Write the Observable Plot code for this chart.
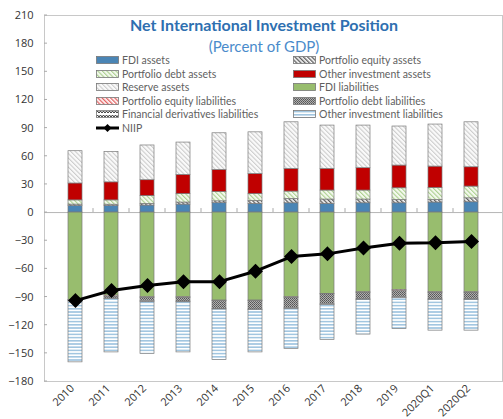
<!DOCTYPE html>
<html>
<head>
<meta charset="utf-8">
<script src="https://cdn.jsdelivr.net/npm/d3@7"></script>
<script src="https://cdn.jsdelivr.net/npm/@observablehq/plot@0.6"></script>
<style>
  html, body { margin: 0; padding: 0; background: #fff; overflow: hidden; }
  #wrap { position: relative; width: 503px; height: 419px; font-family: Lato, "Open Sans", sans-serif; }
  .title { position: absolute; left: 64px; width: 400px; text-align: center; }
  .leg { position: absolute; display: flex; align-items: center; height: 12px; font-size: 10.5px; color: #5f5f5f; white-space: nowrap; }
  .leg svg { margin-right: 3px; }
</style>
</head>
<body>
<svg width="0" height="0" style="position:absolute">
  <defs>
    <pattern id="p-pe-a" width="3" height="3" patternUnits="userSpaceOnUse" patternTransform="rotate(-45)">
      <rect width="3" height="3" fill="#fff"/><line x1="0.7" y1="0" x2="0.7" y2="3" stroke="#555" stroke-width="1.3"/>
    </pattern>
    <pattern id="p-pd-a" width="3.2" height="3.2" patternUnits="userSpaceOnUse" patternTransform="rotate(-45)">
      <rect width="3.2" height="3.2" fill="#f4f9ee"/><line x1="0.6" y1="0" x2="0.6" y2="3.2" stroke="#9cc77a" stroke-width="0.9"/>
    </pattern>
    <pattern id="p-res" width="3.2" height="3.2" patternUnits="userSpaceOnUse" patternTransform="rotate(-45)">
      <rect width="3.2" height="3.2" fill="#fafafa"/><line x1="0.6" y1="0" x2="0.6" y2="3.2" stroke="#bdbdbd" stroke-width="0.8"/>
    </pattern>
    <pattern id="p-pe-l" width="3" height="3" patternUnits="userSpaceOnUse" patternTransform="rotate(-45)">
      <rect width="3" height="3" fill="#fff"/><line x1="0.7" y1="0" x2="0.7" y2="3" stroke="#e05050" stroke-width="1.2"/>
    </pattern>
    <pattern id="p-pd-l" width="2" height="2" patternUnits="userSpaceOnUse">
      <rect width="2" height="2" fill="#b0b0b0"/><rect width="1" height="1" fill="#555"/><rect x="1" y="1" width="1" height="1" fill="#666"/>
    </pattern>
    <pattern id="p-fd-l" width="6" height="4" patternUnits="userSpaceOnUse">
      <rect width="6" height="4" fill="#fff"/><path d="M0,3 L1.5,1 L3,3 L4.5,1 L6,3" fill="none" stroke="#333" stroke-width="1"/>
    </pattern>
    <pattern id="p-oi-l" width="4" height="3.2" patternUnits="userSpaceOnUse">
      <rect width="4" height="3.2" fill="#fff"/><line x1="0" y1="1.6" x2="4" y2="1.6" stroke="#8db9d9" stroke-width="1.3"/>
    </pattern>
  </defs>
</svg>
<div id="wrap"></div>
<script>
// ---- data (percent of GDP) ----
const categories = ["2010","2011","2012","2013","2014","2015","2016","2017","2018","2019","2020Q1","2020Q2"];
const fdiAssets      = [7.0, 7.0, 7.5, 8.5, 10.0, 9.3, 9.9, 9.2, 9.9, 9.9, 10.7, 11.0];
const pfEquityAssets = [1.5, 1.4, 1.8, 2.2, 2.0, 3.2, 4.7, 4.7, 4.0, 3.6, 2.8, 4.2];
const pfDebtAssets   = [4.5, 4.6, 8.5, 9.2, 10.0, 7.4, 7.8, 9.6, 9.6, 12.4, 12.8, 12.5];
const otherInvAssets = [18.0, 19.2, 16.7, 20.3, 23.5, 21.3, 24.2, 23.1, 23.8, 24.2, 22.7, 20.6];
const reserveAssets  = [34.4, 32.4, 37.0, 34.4, 39.0, 44.3, 49.6, 46.1, 45.4, 41.6, 44.8, 47.9];
const fdiLiab        = [-93.0, -88.5, -90.3, -90.3, -93.8, -93.8, -90.3, -86.7, -85.0, -82.4, -85.0, -85.0];
const pfEquityLiab   = [-0.3, -1.2, -0.5, -0.5, -0.5, -0.5, -0.5, -0.5, -0.5, -1.5, -0.5, -0.5];
const pfDebtLiab     = [-1.0, -2.0, -3.5, -4.0, -8.5, -9.0, -11.0, -10.5, -7.0, -6.5, -7.0, -7.0];
const finDerivLiab   = [-0.3, -0.3, -1.2, -0.8, -0.5, -0.5, -0.8, -0.7, -0.5, -0.5, -0.5, -0.5];
const otherInvLiab   = [-65.0, -57.0, -55.0, -53.4, -53.7, -45.2, -42.7, -37.3, -37.0, -33.1, -32.8, -32.8];
const niip           = [-93.8, -83.0, -77.8, -73.6, -73.6, -62.5, -46.9, -44.0, -37.7, -32.7, -32.2, -30.8];
const yTicks = [-180, -150, -120, -90, -60, -30, 0, 30, 60, 90, 120, 150, 180, 210];

const seriesNames = ["FDI assets","Portfolio equity assets","Portfolio debt assets","Other investment assets","Reserve assets",
  "FDI liabilities","Portfolio equity liabilities","Portfolio debt liabilities","Financial derivatives liabilities","Other investment liabilities"];
const seriesValues = [fdiAssets, pfEquityAssets, pfDebtAssets, otherInvAssets, reserveAssets,
  fdiLiab, pfEquityLiab, pfDebtLiab, finDerivLiab, otherInvLiab];
const seriesFills = ["#4a85b5","url(#p-pe-a)","url(#p-pd-a)","#c00000","url(#p-res)",
  "#98bd6e","url(#p-pe-l)","url(#p-pd-l)","url(#p-fd-l)","url(#p-oi-l)"];

const table = [];
seriesNames.forEach((s, si) => categories.forEach((c, ci) => table.push({cat: c, series: s, value: seriesValues[si][ci], fill: seriesFills[si]})));
const lineData = categories.map((c, i) => ({cat: c, value: niip[i]}));

// small tick marks at category boundaries on the zero line and inward y ticks
function extraTicks(index, scales, values, dims) {
  const g = d3.create("svg:g").attr("stroke", "#aaa").attr("stroke-width", 1);
  const x = scales.x, y = scales.y, bw = x.bandwidth ? x.bandwidth() : 0;
  const centers = categories.map(c => x(c) + bw / 2);
  for (let i = 0; i < centers.length - 1; i++) {
    const bx = (centers[i] + centers[i + 1]) / 2;
    g.append("line").attr("x1", bx).attr("x2", bx).attr("y1", y(0) - 4).attr("y2", y(0));
  }
  const lx = dims.marginLeft;
  yTicks.forEach(t => g.append("line").attr("x1", lx).attr("x2", lx + 3).attr("y1", y(t)).attr("y2", y(t)));
  return g.node();
}

const chart = Plot.plot({
  width: 503, height: 419,
  marginTop: 15, marginLeft: 44, marginRight: 1, marginBottom: 38,
  style: {fontFamily: "'Open Sans', sans-serif", fontSize: "11px", color: "#333", background: "#fff"},
  x: {domain: categories, padding: 0.6, label: null},
  y: {domain: [-180, 210], label: null},
  color: {type: "identity"},
  marks: [
    Plot.frame({stroke: "#c8c8c8"}),
    Plot.ruleY([0], {stroke: "#b5b5b5"}),
    Plot.barY(table, Plot.stackY({x: "cat", y: "value", z: "series", fill: "fill", stroke: "#7a7a7a", strokeWidth: 0.7})),
    Plot.line(lineData, {x: "cat", y: "value", stroke: "#000", strokeWidth: 3}),
    Plot.dot(lineData, {x: "cat", y: "value", symbol: "diamond2", r: 5.8, fill: "#000", stroke: "#000"}),
    Plot.axisY({ticks: yTicks, tickSize: 0, tickPadding: 11, fill: "#333"}),
    Plot.axisX({tickRotate: -45, tickSize: 0, tickPadding: 5, dx: -3, fill: "#333", fontSize: 11}),
    extraTicks
  ]
});

const wrap = document.getElementById("wrap");
wrap.appendChild(chart);

const t1 = document.createElement("div");
t1.className = "title";
t1.style.cssText = "top:15px;font-size:16px;font-weight:bold;color:#2e6fb0;";
t1.textContent = "Net International Investment Position";
wrap.appendChild(t1);
const t2 = document.createElement("div");
t2.className = "title";
t2.style.cssText = "top:37px;font-size:15px;color:#4a8bcb;";
t2.textContent = "(Percent of GDP)";
wrap.appendChild(t2);

// legend
const legendOrder = [0, 1, 2, 3, 4, 5, 6, 7, 8, 9];
const rowsY = [60, 73.5, 87, 100.5, 114, 127.5];
legendOrder.forEach((si, k) => {
  const col = k % 2, row = Math.floor(k / 2);
  const d = document.createElement("div");
  d.className = "leg";
  d.style.left = (col === 0 ? 96 : 293) + "px";
  d.style.top = (rowsY[row] - 6) + "px";
  d.innerHTML = `<svg width="23" height="8"><rect x="0.5" y="0.5" width="22" height="7" fill="${seriesFills[si]}" stroke="#777" stroke-width="0.8"/></svg><span>${seriesNames[si]}</span>`;
  wrap.appendChild(d);
});
const dn = document.createElement("div");
dn.className = "leg";
dn.style.left = "96px";
dn.style.top = (rowsY[5] - 6) + "px";
dn.innerHTML = `<svg width="23" height="10"><line x1="0" y1="5" x2="23" y2="5" stroke="#000" stroke-width="3"/><path d="M11.5,1 L15.5,5 L11.5,9 L7.5,5 Z" fill="#000"/></svg><span>NIIP</span>`;
wrap.appendChild(dn);
</script>
</body>
</html>
